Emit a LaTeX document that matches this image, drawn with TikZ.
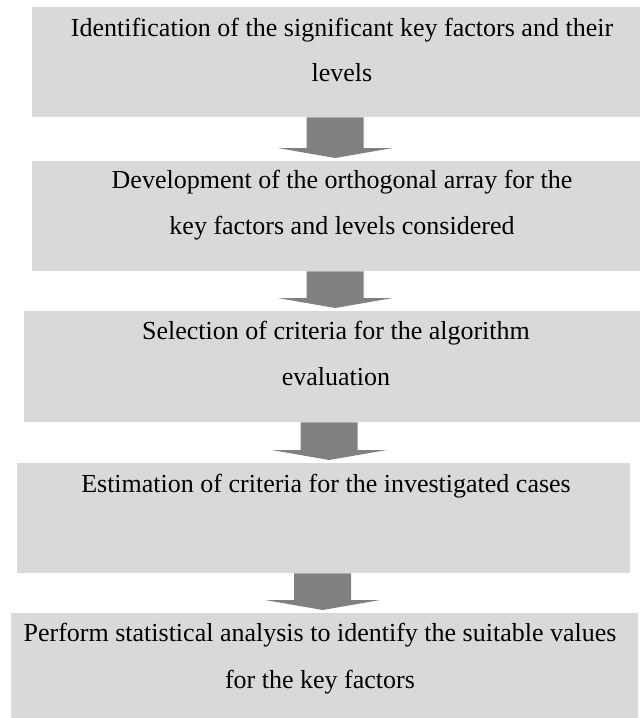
\documentclass[tikz,border=0pt]{standalone}
\usepackage{fontspec}
\setmainfont{Liberation Serif}
\usetikzlibrary{calc}
\definecolor{boxgray}{HTML}{D9D9D9}
\definecolor{arrgray}{HTML}{808080}
\tikzset{
  stepbox/.style={rectangle, fill=boxgray, draw=none, inner sep=0pt, anchor=north west},
  label/.style={anchor=base, inner sep=0pt, font=\fontsize{26}{30}\selectfont},
  arr/.style={fill=arrgray}
}
\newcommand\blkarrow[3]{%
  \fill[arr] let \p1=(#1.south), \p2=(#2.north) in
   (\x1+#3-28.5pt,\y1) -- (\x1+#3+28.5pt,\y1) -- (\x1+#3+28.5pt,\y2+13pt)
   -- (\x1+#3+57.5pt,\y2+13pt) -- (\x1+#3,\y2+3pt) -- (\x1+#3-57.5pt,\y2+13pt)
   -- (\x1+#3-28.5pt,\y2+13pt) -- cycle;}
\begin{document}
\begin{tikzpicture}[x=1pt,y=-1pt]
\useasboundingbox (0,0) rectangle (640,718);
\node[stepbox, minimum width=608pt, minimum height=110pt] (b1) at (32,7) {};
\node[stepbox, minimum width=608pt, minimum height=110pt] (b2) at (32,161) {};
\node[stepbox, minimum width=616pt, minimum height=111pt] (b3) at (24,311) {};
\node[stepbox, minimum width=613pt, minimum height=110pt] (b4) at (17,463) {};
\node[stepbox, minimum width=627pt, minimum height=105pt] (b5) at (11,613) {};
\node[label] (t1a) at (342,36) {Identification of the significant key factors and their};
\node[label] (t1b) at (342,81) {levels};
\node[label] (t2a) at (342,188) {Development of the orthogonal array for the};
\node[label] (t2b) at (342,234) {key factors and levels considered};
\node[label] (t3a) at (336,339) {Selection of criteria for the algorithm};
\node[label] (t3b) at (336,385) {evaluation};
\node[label] (t4a) at (326,492) {Estimation of criteria for the investigated cases};
\node[label] (t5a) at (320,641) {Perform statistical analysis to identify the suitable values};
\node[label] (t5b) at (320,688) {for the key factors};
\blkarrow{b1}{b2}{-1pt}
\blkarrow{b2}{b3}{-1pt}
\blkarrow{b3}{b4}{-3pt}
\blkarrow{b4}{b5}{-1pt}
\end{tikzpicture}
\end{document}
